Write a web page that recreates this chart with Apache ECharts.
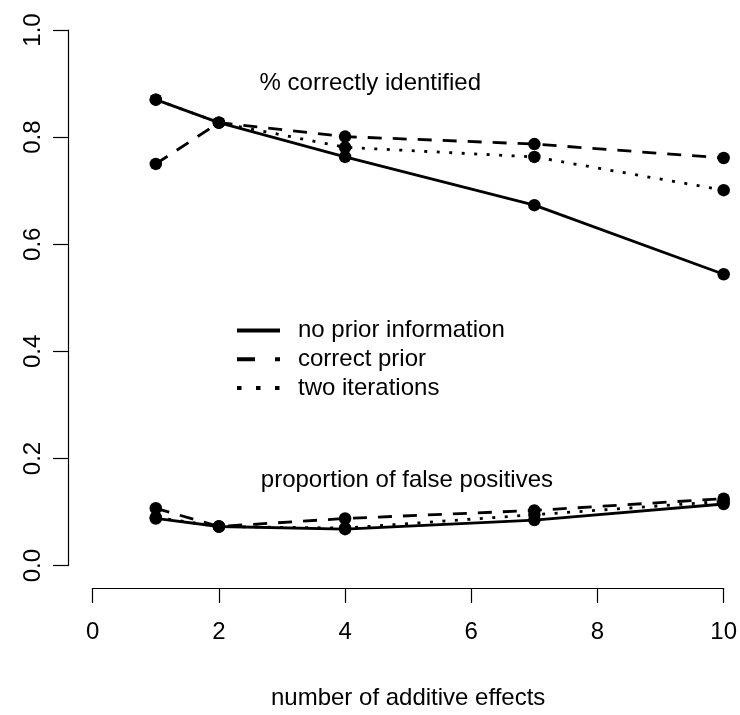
<!DOCTYPE html>
<html>
<head>
<meta charset="utf-8">
<script src="https://cdn.jsdelivr.net/npm/echarts@6/dist/echarts.min.js"></script>
<style>
html,body{margin:0;padding:0;background:#fff;}
#chart{width:740px;height:715px;}
</style>
</head>
<body>
<div id="chart"></div>
<script>
// ---- data ----
var effects = [1, 2, 4, 7, 10];
var seriesNames = ['no prior information', 'correct prior', 'two iterations'];
// % correctly identified
var correctNoPrior   = [0.870, 0.827, 0.763, 0.673, 0.544];
var correctPrior     = [0.750, 0.827, 0.801, 0.787, 0.761];
var correctTwoIter   = [0.870, 0.827, 0.781, 0.763, 0.701];
// proportion of false positives
var falseNoPrior     = [0.088, 0.073, 0.068, 0.085, 0.115];
var falsePrior       = [0.107, 0.073, 0.088, 0.103, 0.125];
var falseTwoIter     = [0.090, 0.073, 0.070, 0.095, 0.120];
var xTicks = [0, 2, 4, 6, 8, 10];
var yTicks = [0, 0.2, 0.4, 0.6, 0.8, 1.0];
var annotations = ['% correctly identified', 'proportion of false positives'];
var xTitle = 'number of additive effects';

// ---- styles ----
var FONT = 'Liberation Sans, Arial, Helvetica, sans-serif';
var FS = 24;
var lineTypes = ['solid', [14, 11], [3, 9.5]];
var LW = 2.8;

function pairs(xs, ys) { return xs.map(function (x, i) { return [x, ys[i]]; }); }

var groups = [
  [correctNoPrior, correctPrior, correctTwoIter],
  [falseNoPrior, falsePrior, falseTwoIter]
];
var series = [];
[2, 1, 0].forEach(function (k) {
  groups.forEach(function (g) {
    series.push({
      name: seriesNames[k],
      type: 'line',
      data: pairs(effects, g[k]),
      symbol: 'circle',
      symbolSize: 12.5,
      showAllSymbol: true,
      itemStyle: { color: '#000' },
      lineStyle: { color: '#000', width: LW, type: lineTypes[k], cap: 'butt' },
      emphasis: { disabled: true },
      animation: false,
      z: 3 - k
    });
  });
});

var chart = echarts.init(document.getElementById('chart'), null, { renderer: 'canvas' });

var axisCommon = {
  axisLine: { show: true, onZero: false, lineStyle: { color: '#000', width: 1.2 } },
  axisTick: { show: true, inside: false, length: 15, lineStyle: { color: '#000', width: 1.2 } },
  splitLine: { show: false },
  axisLabel: { color: '#000', fontFamily: FONT, fontSize: FS }
};

var legendX = 237, legendY0 = 330.5, legendDy = 28.8, legendLen = 43;
var legendDash = [null, [18, 20], [4.5, 14.5]];
var graphics = [];
seriesNames.forEach(function (nm, i) {
  var y = legendY0 + i * legendDy;
  graphics.push({
    type: 'line',
    shape: { x1: legendX, y1: y, x2: legendX + legendLen, y2: y },
    style: { stroke: '#000', lineWidth: 4, lineDash: legendDash[i], lineCap: 'butt' }
  });
  graphics.push({
    type: 'text',
    style: { x: legendX + 61, y: y, text: nm, font: FS + 'px ' + FONT, fill: '#000', textVerticalAlign: 'middle', verticalAlign: 'middle' }
  });
});

var option = {
  animation: false,
  backgroundColor: '#fff',
  grid: { left: 92.7, right: 740 - 724.3, top: 30, bottom: 715 - 578.3, containLabel: false },
  xAxis: Object.assign({}, axisCommon, {
    type: 'value', min: xTicks[0], max: xTicks[xTicks.length - 1], interval: 2,
    position: 'bottom', offset: 22.4,
    axisLabel: Object.assign({}, axisCommon.axisLabel, { margin: 32 }),
    name: xTitle, nameLocation: 'middle', nameGap: 98,
    nameTextStyle: { color: '#000', fontFamily: FONT, fontSize: FS }
  }),
  yAxis: Object.assign({}, axisCommon, {
    type: 'value', min: yTicks[0], max: yTicks[yTicks.length - 1], interval: 0.2,
    position: 'left', offset: 24.7,
    axisLabel: Object.assign({}, axisCommon.axisLabel, {
      rotate: 90, margin: 23,
      formatter: function (v) { return v.toFixed(1); }
    })
  }),
  series: series,
  graphic: graphics
};
chart.setOption(option);

var annPos = [[4.4, 0.90], [4.98, 0.16]];
var annG = annotations.map(function (t, i) {
  var p = chart.convertToPixel({ gridIndex: 0 }, annPos[i]);
  return {
    type: 'text',
    style: { x: p[0], y: p[1], text: t, font: FS + 'px ' + FONT, fill: '#000', textAlign: 'center', align: 'center', textVerticalAlign: 'middle', verticalAlign: 'middle' }
  };
});
chart.setOption({ graphic: graphics.concat(annG) });
</script>
</body>
</html>
